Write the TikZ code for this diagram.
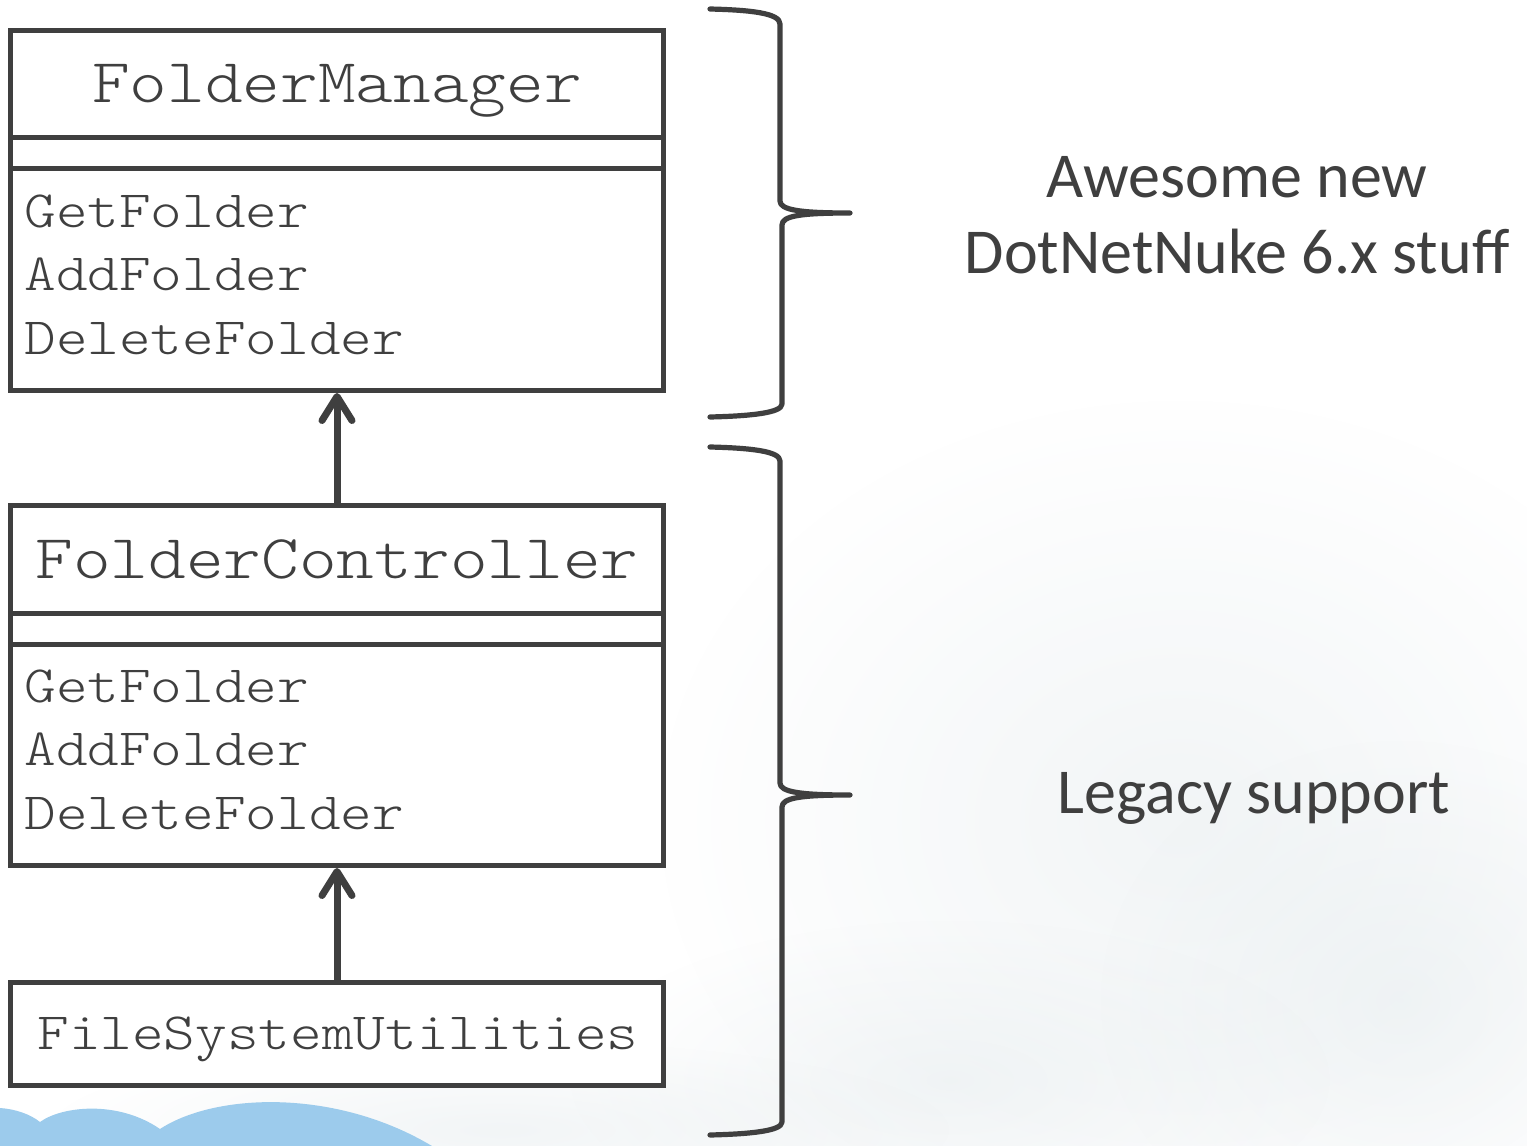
\documentclass[tikz,border=0pt]{standalone}
\usepackage{fontspec}
\usetikzlibrary{arrows.meta,fadings}
\newfontfamily\codefont[FakeStretch=1.15]{Latin Modern Mono Light}
\newfontfamily\notefont{Carlito}
\definecolor{ink}{HTML}{3F3F3F}
\definecolor{skyblue}{HTML}{9CCBEC}
\definecolor{haze}{HTML}{E2E9EC}
\tikzfading[name=softblob, inner color=transparent!55, outer color=transparent!100]

\begin{document}
\begin{tikzpicture}[x=0.5pt,y=-0.5pt,
  classbox/.style={draw=ink, line width=2.5pt, fill=white, inner sep=0pt, minimum width=326.5pt},
  titletext/.style={font=\codefont\fontsize{31.2}{36}\selectfont, text=ink, inner sep=0pt, anchor=base},
  methodtext/.style={font=\codefont\fontsize{26.2}{30}\selectfont, text=ink, inner sep=0pt, anchor=base west},
  divider/.style={draw=ink, line width=2.5pt},
  inherits/.style={draw=ink, line width=3.5pt, -{Straight Barb[length=12pt,width=15pt,round]}},
  bracket/.style={draw=ink, line width=2.6pt, line cap=round, line join=round},
  notetext/.style={font=\notefont\fontsize{32}{38}\selectfont, text=ink, inner sep=0pt, anchor=base}]

% canvas
\fill[white] (0,0) rectangle (1527,1146);
\useasboundingbox (0,0) rectangle (1527,1146);

% faint clouds behind the lower half
\fill[haze, path fading=softblob] (1180,820) ellipse [x radius=520, y radius=420];
\fill[haze, path fading=softblob] (1400,1000) ellipse [x radius=300, y radius=260];
\fill[haze, path fading=softblob] (950,1080) ellipse [x radius=380, y radius=160];
\fill[haze, path fading=softblob] (500,1130) ellipse [x radius=450, y radius=90];

% blue cloud in the bottom left corner
\fill[skyblue] (0,1108) .. controls (15,1109) and (30,1114) .. (40,1122)
  .. controls (62,1106) and (118,1100) .. (160,1129)
  .. controls (215,1093) and (335,1088) .. (432,1146)
  -- (0,1146) -- cycle;

% FolderManager
\node[classbox, minimum height=180pt] (fm) at (337,210.5) {};
\coordinate (fmd1) at (0,137);
\coordinate (fmd2) at (0,168);
\draw[divider] (fm.west |- fmd1) -- (fm.east |- fmd1);
\draw[divider] (fm.west |- fmd2) -- (fm.east |- fmd2);
\node[titletext] (fmname) at (337,102) {FolderManager};
\node[methodtext] (fmget) at (24,227) {GetFolder};
\node[methodtext] (fmadd) at (24,290) {AddFolder};
\node[methodtext] (fmdel) at (24,354) {DeleteFolder};

% FolderController
\node[classbox, minimum height=180pt] (fc) at (337,685.5) {};
\coordinate (fcd1) at (0,613);
\coordinate (fcd2) at (0,644);
\draw[divider] (fc.west |- fcd1) -- (fc.east |- fcd1);
\draw[divider] (fc.west |- fcd2) -- (fc.east |- fcd2);
\node[titletext] (fcname) at (337,578) {FolderController};
\node[methodtext] (fcget) at (24,702) {GetFolder};
\node[methodtext] (fcadd) at (24,765) {AddFolder};
\node[methodtext] (fcdel) at (24,829) {DeleteFolder};

% FileSystemUtilities
\node[classbox, minimum height=51.5pt] (fsu) at (337,1034) {};
\node[methodtext, anchor=base] (fsuname) at (338,1049) {FileSystemUtilities};

% inheritance arrows
\draw[inherits] (fc.north) -- (fm.south);
\draw[inherits] (fsu.north) -- (fc.south);

% braces
\draw[bracket] (710,9) .. controls (750,10) and (780,13) .. (780,24)
  -- (780,201) .. controls (780,210) and (800,213) .. (850,213)
  .. controls (800,213) and (782,216) .. (782,225)
  -- (782,404) .. controls (782,413) and (750,416) .. (710,417);
\draw[bracket] (710,447) .. controls (750,448) and (780,451) .. (780,461)
  -- (780,783) .. controls (780,792) and (800,795) .. (850,795)
  .. controls (800,795) and (782,798) .. (782,807)
  -- (782,1122) .. controls (782,1131) and (750,1134) .. (710,1135);

% notes
\node[notetext] (newA) at (1237,197) {Awesome new};
\node[notetext] (newB) at (1237,273) {DotNetNuke 6.x stuff};
\node[notetext] (legacy) at (1254,813) {Legacy support};
\end{tikzpicture}
\end{document}
